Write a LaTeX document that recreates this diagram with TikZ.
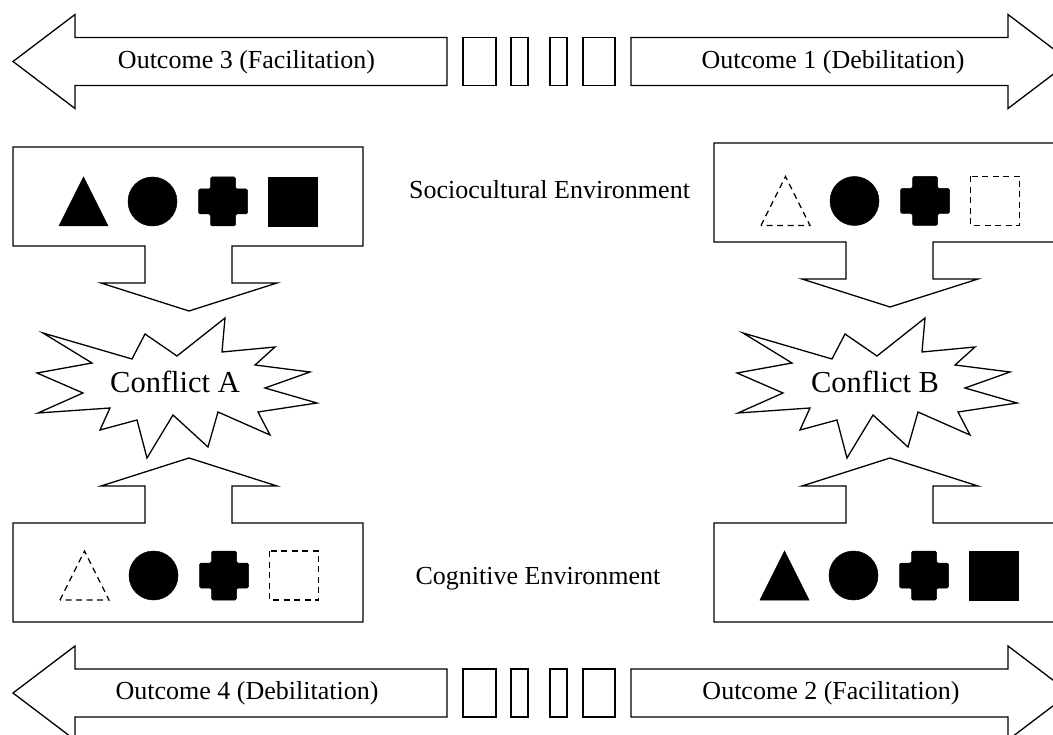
\documentclass[tikz,border=0pt]{standalone}
\usepackage{fontspec}
\setmainfont{Liberation Serif}
\usetikzlibrary{positioning}
\tikzset{
  outline/.style={draw, line width=1.3pt, line join=miter, fill=white},
  glyph/.style={fill=black, draw=black, line width=0.5pt},
  ghost/.style={draw=black, line width=1.3pt, dash pattern=on 6pt off 4.5pt},
  caption/.style={font=\fontsize{26}{30}\selectfont, inner sep=0pt, anchor=base},
  burst/.style={font=\fontsize{30.5}{36}\selectfont, inner sep=0pt, anchor=base},
  pics/envbox/.style={code={
    \draw[outline] (0,0) -- (350,0) -- (350,99) -- (219,99) -- (219,136) -- (264,136)
      -- (176,164) -- (88,136) -- (132,136) -- (132,99) -- (0,99) -- cycle;
  }},
  pics/outarrow/.style={code={
    \draw[outline] (0,0) -- (62,-47) -- (62,-24) -- (#1,-24) -- (#1,24) -- (62,24) -- (62,47) -- cycle;
  }},
  pics/starburst/.style={code={
    \draw[outline] (-132,-50) -- (-43,-24) -- (-30,-49) -- (2,-27) -- (50,-65) -- (47,-31)
      -- (100,-36) -- (80,-18) -- (135,-11) -- (90,5) -- (142,20) -- (83,29) -- (95,52)
      -- (43,29) -- (33,64) -- (-2,32) -- (-28,75) -- (-38,37) -- (-75,47) -- (-65,25)
      -- (-137,30) -- (-92,10) -- (-138,-10) -- (-83,-20) -- cycle;
  }},
  pics/tri/.style={code={\path[#1] (-24.5,24.5) -- (0,-24.5) -- (24.5,24.5) -- cycle;}},
  pics/disc/.style={code={\path[#1] (0,0) circle[radius=24.5];}},
  pics/plus/.style={code={\path[#1, rounded corners=1.5pt] (-12.5,-24.5) -- (12.5,-24.5) -- (12.5,-12.5)
      -- (24.5,-12.5) -- (24.5,12.5) -- (12.5,12.5) -- (12.5,24.5) -- (-12.5,24.5) -- (-12.5,12.5)
      -- (-24.5,12.5) -- (-24.5,-12.5) -- (-12.5,-12.5) -- cycle;}},
  pics/sq/.style={code={\path[#1] (-24.5,-24.5) rectangle (24.5,24.5);}},
  pics/fullset/.style={code={
    \pic at (0,0) {tri=glyph};
    \pic at (69,0) {disc=glyph};
    \pic at (139.5,0) {plus=glyph};
    \pic at (209.5,0) {sq=glyph};
  }},
  pics/partset/.style={code={
    \pic at (0,0) {tri=ghost};
    \pic at (69,0) {disc=glyph};
    \pic at (139.5,0) {plus=glyph};
    \pic at (209.5,0) {sq=ghost};
  }}
}

\begin{document}
\begin{tikzpicture}[x=1pt, y=-1pt]
  \useasboundingbox (0,0) rectangle (1053,735);
  \clip (0,0) rectangle (1053,735);

  % outcome arrows, top and bottom
  \pic at (13,61.5) {outarrow=434};
  \pic[xscale=-1] at (1070,61.5) {outarrow=439};
  \pic at (13,693) {outarrow=434};
  \pic[xscale=-1] at (1070,693) {outarrow=439};
  \foreach \a/\b in {463/496, 511/528, 550/567, 583/615} {
    \draw[outline] (\a,37.5) rectangle (\b,85.5);
    \draw[outline] (\a,669) rectangle (\b,717);
  }

  % environment boxes
  \pic at (13,147) {envbox};
  \pic at (714,143) {envbox};
  \pic[yscale=-1] at (13,622) {envbox};
  \pic[yscale=-1] at (714,622) {envbox};

  \pic at (83.5,201.5) {fullset};
  \pic at (785.5,201) {partset};
  \pic at (84.5,575.5) {partset};
  \pic at (784.5,575.5) {fullset};

  % conflicts
  \pic at (175,383) {starburst};
  \pic at (875,383) {starburst};

  \node[burst] (confA) at (175,393) {Conflict A};
  \node[burst] (confB) at (875,393) {Conflict B};

  \node[caption] (out3) at (246.5,68.5) {Outcome 3 (Facilitation)};
  \node[caption] (out1) at (833,68.5) {Outcome 1 (Debilitation)};
  \node[caption] (out4) at (247,699.5) {Outcome 4 (Debilitation)};
  \node[caption] (out2) at (831,699.5) {Outcome 2 (Facilitation)};
  \node[caption] (socio) at (549.5,199) {Sociocultural Environment};
  \node[caption] (cogn) at (538,584) {Cognitive Environment};
\end{tikzpicture}
\end{document}
